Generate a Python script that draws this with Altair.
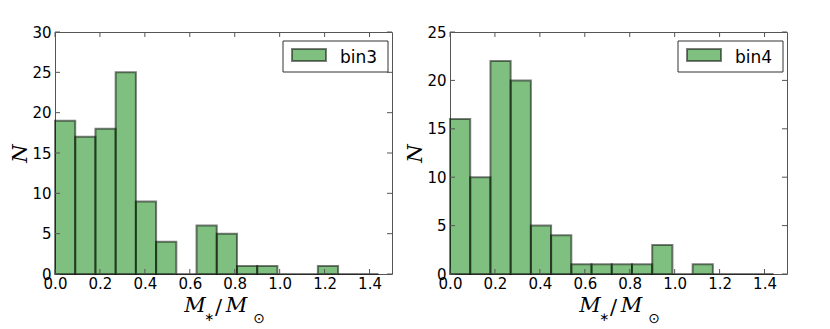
import altair as alt
import pandas as pd

# histogram bin edges (width 0.09)
bin_edges = [0.00, 0.09, 0.18, 0.27, 0.36, 0.45, 0.54, 0.63, 0.72, 0.81,
             0.90, 0.99, 1.08, 1.17, 1.26, 1.35, 1.44]
counts_bin3 = [19, 17, 18, 25, 9, 4, 0, 6, 5, 1, 1, 0, 0, 1, 0, 0]
counts_bin4 = [16, 10, 22, 20, 5, 4, 1, 1, 1, 1, 3, 0, 1, 0, 0, 0]
x_ticks = [0.0, 0.2, 0.4, 0.6, 0.8, 1.0, 1.2, 1.4]
y_ticks_bin3 = [0, 5, 10, 15, 20, 25, 30]
y_ticks_bin4 = [0, 5, 10, 15, 20, 25]

W, H = 337, 242
TICK = 5
AXIS_GREY = "#555555"


def panel(counts, label, yticks):
    ymax = yticks[-1]
    df = pd.DataFrame({"lo": bin_edges[:-1], "hi": bin_edges[1:], "n": counts})
    xs = alt.Scale(domain=[0, 1.5], nice=False, zero=False, padding=0)
    ys = alt.Scale(domain=[0, ymax], nice=False, padding=0)
    bars = alt.Chart(df).mark_rect(
        fill="#008000", fillOpacity=0.5, stroke="black", strokeOpacity=0.5,
        strokeWidth=2
    ).encode(
        x=alt.X("lo:Q", scale=xs, axis=alt.Axis(
            values=x_ticks, format=".1f", title="", ticks=False,
            domain=False, grid=False, labelPadding=2, labelFontSize=15,
            labelFlush=False,
            labelFont="DejaVu Sans", labelColor="black")),
        x2="hi:Q",
        y=alt.Y("n:Q", scale=ys, axis=alt.Axis(
            values=yticks, title="N", ticks=False, domain=False, grid=False,
            labelPadding=4, labelFontSize=15, labelFont="DejaVu Sans",
            labelFlush=False,
            labelColor="black", titleFont="DejaVu Serif",
            titleFontStyle="italic", titleFontWeight="normal",
            titleFontSize=21, titlePadding=1, titleColor="black")),
        y2=alt.datum(0),
    )
    xt = pd.DataFrame({"lo": x_ticks})
    yt = pd.DataFrame({"n": yticks})
    tick_style = dict(color=AXIS_GREY, strokeWidth=1)
    xb = alt.Chart(xt).mark_rule(**tick_style).encode(
        x=alt.X("lo:Q", scale=xs), y=alt.value(H), y2=alt.value(H - TICK))
    xtop = alt.Chart(xt).mark_rule(**tick_style).encode(
        x=alt.X("lo:Q", scale=xs), y=alt.value(0), y2=alt.value(TICK))
    yl = alt.Chart(yt).mark_rule(**tick_style).encode(
        y=alt.Y("n:Q", scale=ys), x=alt.value(0), x2=alt.value(TICK))
    yr = alt.Chart(yt).mark_rule(**tick_style).encode(
        y=alt.Y("n:Q", scale=ys), x=alt.value(W - TICK), x2=alt.value(W))
    leg = pd.DataFrame({"t": [label]})
    box = alt.Chart(leg).mark_rect(
        fill="white", stroke="#333333", strokeWidth=1
    ).encode(x=alt.value(228), x2=alt.value(333), y=alt.value(9), y2=alt.value(40))
    patch = alt.Chart(leg).mark_rect(
        fill="#008000", fillOpacity=0.5, stroke="black", strokeOpacity=0.5,
        strokeWidth=2
    ).encode(x=alt.value(237), x2=alt.value(271), y=alt.value(17), y2=alt.value(29))
    txt = alt.Chart(leg).mark_text(
        align="left", baseline="alphabetic", fontSize=17, font="DejaVu Sans",
        color="black"
    ).encode(text="t:N", x=alt.value(285), y=alt.value(30.5))

    # x-axis label  M_* / M_sun  built from pieces
    xl = pd.DataFrame({"t": ["M", "∗", "/", "M", "⊙"],
                       "k": ["a", "b", "c", "d", "e"]})
    big = dict(font="DejaVu Serif", fontStyle="italic", fontSize=21,
               align="center", baseline="alphabetic", color="black")
    m1 = alt.Chart(xl).transform_filter("datum.k == 'a'").mark_text(**big).encode(
        text="t:N", x=alt.value(140), y=alt.value(280))
    ast = alt.Chart(xl).transform_filter("datum.k == 'b'").mark_text(
        font="DejaVu Sans", fontSize=12, align="center", baseline="middle",
        color="black").encode(text="t:N", x=alt.value(154), y=alt.value(285))
    sl = alt.Chart(xl).transform_filter("datum.k == 'c'").mark_text(
        font="DejaVu Serif", fontSize=21, align="center",
        baseline="alphabetic", color="black").encode(
        text="t:N", x=alt.value(163.5), y=alt.value(282))
    m2 = alt.Chart(xl).transform_filter("datum.k == 'd'").mark_text(**big).encode(
        text="t:N", x=alt.value(181.5), y=alt.value(280))
    sun = alt.Chart(xl).transform_filter("datum.k == 'e'").mark_text(
        font="DejaVu Sans", fontSize=14, align="center", baseline="middle",
        color="black").encode(text="t:N", x=alt.value(204), y=alt.value(286.5))
    return alt.layer(bars, xb, xtop, yl, yr, box, patch, txt,
                     m1, ast, sl, m2, sun).properties(width=W, height=H)


left = panel(counts_bin3, "bin3", y_ticks_bin3)
right = panel(counts_bin4, "bin4", y_ticks_bin4)

chart = alt.hconcat(left, right, spacing=58, bounds="flush").configure_view(
    stroke=AXIS_GREY, strokeWidth=1
).properties(padding={"left": 1, "top": 16, "right": 5, "bottom": 0})

chart.save("out.html", embed_options={"renderer": "svg", "actions": False})
